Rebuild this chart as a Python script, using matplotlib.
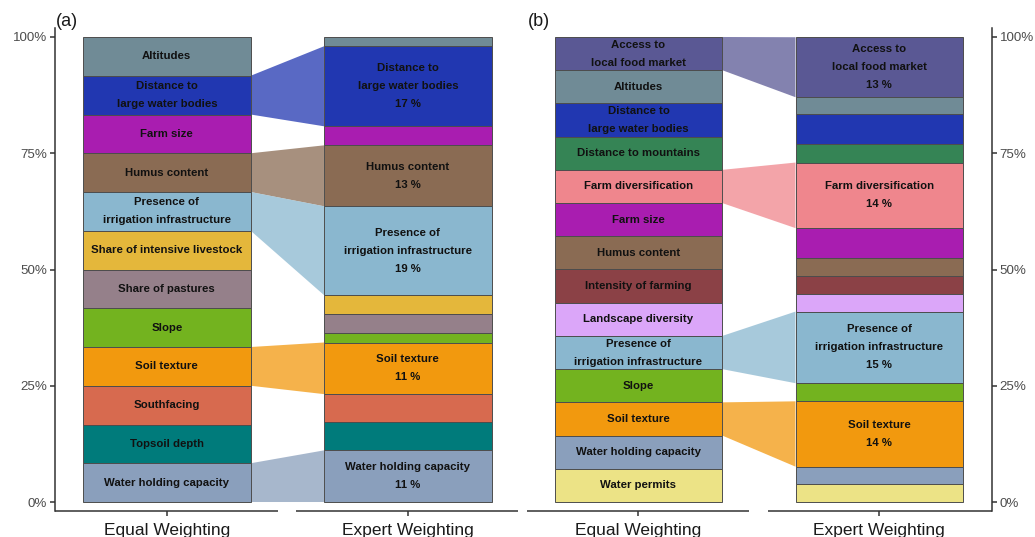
import matplotlib
matplotlib.use('Agg')
import matplotlib.pyplot as plt
from matplotlib.patches import Rectangle, Polygon

plt.rcParams['font.family'] = ['Liberation Sans', 'DejaVu Sans']

W, H = 1035, 537

# ---------------- data ----------------
columns = ["Equal Weighting", "Expert Weighting"]

factors_a = ["Altitudes", "Distance to\nlarge water bodies", "Farm size", "Humus content",
             "Presence of\nirrigation infrastructure", "Share of intensive livestock",
             "Share of pastures", "Slope", "Soil texture", "Southfacing", "Topsoil depth",
             "Water holding capacity"]
equal_a = [8.333, 8.333, 8.333, 8.333, 8.333, 8.333, 8.333, 8.333, 8.333, 8.333, 8.333, 8.333]
expert_a = [2.0, 17.2, 4.1, 13.1, 19.1, 4.1, 4.1, 2.0, 11.1, 6.0, 6.1, 11.1]

factors_b = ["Access to\nlocal food market", "Altitudes", "Distance to\nlarge water bodies",
             "Distance to mountains", "Farm diversification", "Farm size", "Humus content",
             "Intensity of farming", "Landscape diversity", "Presence of\nirrigation infrastructure",
             "Slope", "Soil texture", "Water holding capacity", "Water permits"]
equal_b = [7.143, 7.143, 7.143, 7.143, 7.143, 7.143, 7.143, 7.143, 7.143, 7.143, 7.143, 7.143, 7.143, 7.143]
expert_b = [12.9, 3.7, 6.45, 3.9, 14.1, 6.45, 3.8, 3.9, 3.8, 15.4, 3.9, 14.05, 3.8, 3.8]

colors = {
    "Altitudes": "#708B96",
    "Distance to\nlarge water bodies": "#2137B1",
    "Farm size": "#A91DB0",
    "Humus content": "#8A6B53",
    "Presence of\nirrigation infrastructure": "#8AB7CF",
    "Share of intensive livestock": "#E4B73B",
    "Share of pastures": "#95808A",
    "Slope": "#73B31F",
    "Soil texture": "#F2990E",
    "Southfacing": "#D76A4F",
    "Topsoil depth": "#007B7B",
    "Water holding capacity": "#8A9FBC",
    "Access to\nlocal food market": "#5A5894",
    "Distance to mountains": "#358455",
    "Farm diversification": "#EF868D",
    "Intensity of farming": "#8B4146",
    "Landscape diversity": "#DBA6F9",
    "Water permits": "#ECE386",
}

yticks = [0, 25, 50, 75, 100]
ytick_labels = ["0%", "25%", "50%", "75%", "100%"]
highlight_threshold = 10

fig = plt.figure(figsize=(W / 100, H / 100), dpi=100)

BAR_W = 0.696
YLIM = (-1.935, 101.935)
AXCOL = '#333333'
LS = 2.0


def stack(values):
    # first factor on top -> stack from the last one
    bottoms = {}
    b = 0.0
    for i in range(len(values) - 1, -1, -1):
        bottoms[i] = b
        b += values[i]
    return bottoms


def panel(left_px, right_px, xlim, breaks, factors, equal, expert, side, tag, tag_px):
    ax = fig.add_axes([left_px / W, (H - 511) / H, (right_px - left_px) / W, (511 - 28) / H])
    ax.set_xlim(*xlim)
    ax.set_ylim(*YLIM)
    for s in ax.spines.values():
        s.set_visible(False)
    sp = ax.spines[side]
    sp.set_visible(True)
    sp.set_color(AXCOL)
    sp.set_linewidth(1.1)
    if side == 'right':
        ax.yaxis.tick_right()
    ax.set_yticks(yticks)
    ax.set_yticklabels(ytick_labels)
    ax.tick_params(axis='y', length=3.6, width=1.1, color=AXCOL, labelsize=9.6,
                   labelcolor='#4D4D4D', pad=2)
    ax.set_xticks([1, 2])
    ax.set_xticklabels(columns)
    ax.tick_params(axis='x', length=3.6, width=1.1, color=AXCOL, labelsize=12.5,
                   labelcolor='#1A1A1A', pad=5)
    for (x0, x1) in breaks:
        ax.plot([x0, x1], [YLIM[0], YLIM[0]], color=AXCOL, lw=1.1, clip_on=False,
                solid_capstyle='butt', zorder=5)

    be = stack(equal)
    bx = stack(expert)
    xr = 1 + BAR_W / 2
    xl = 2 - BAR_W / 2
    for i, f in enumerate(factors):
        c = colors[f]
        ax.add_patch(Rectangle((1 - BAR_W / 2, be[i]), BAR_W, equal[i], facecolor=c,
                               edgecolor='#4D4D4D', lw=0.7, zorder=2))
        ax.add_patch(Rectangle((2 - BAR_W / 2, bx[i]), BAR_W, expert[i], facecolor=c,
                               edgecolor='#4D4D4D', lw=0.7, zorder=2))
        ax.text(1, be[i] + equal[i] / 2, f, ha='center', va='center', fontsize=8.2,
                fontweight='bold', linespacing=LS, color='#111111', zorder=3)
        if expert[i] >= highlight_threshold:
            ax.text(2, bx[i] + expert[i] / 2, f"{f}\n{round(expert[i])} %", ha='center',
                    va='center', fontsize=8.2, fontweight='bold', linespacing=LS,
                    color='#111111', zorder=3)
            poly = Polygon([(xr, be[i]), (xr, be[i] + equal[i]), (xl, bx[i] + expert[i]),
                            (xl, bx[i])], closed=True, facecolor=c, alpha=0.75,
                           edgecolor='none', zorder=1)
            ax.add_patch(poly)
    fig.text(tag_px[0] / W, 1 - tag_px[1] / H, tag, fontsize=13, ha='left', va='center',
             color='#1A1A1A')
    return ax


panel(55, 518, (0.536, 2.457), [(0.536, 1.461), (1.536, 2.457)],
      factors_a, equal_a, expert_a, 'left', '(a)', (56, 22))
panel(527, 992, (0.537, 2.468), [(0.537, 1.459), (1.538, 2.468)],
      factors_b, equal_b, expert_b, 'right', '(b)', (528, 22))

fig.savefig('out.png', dpi=100)
